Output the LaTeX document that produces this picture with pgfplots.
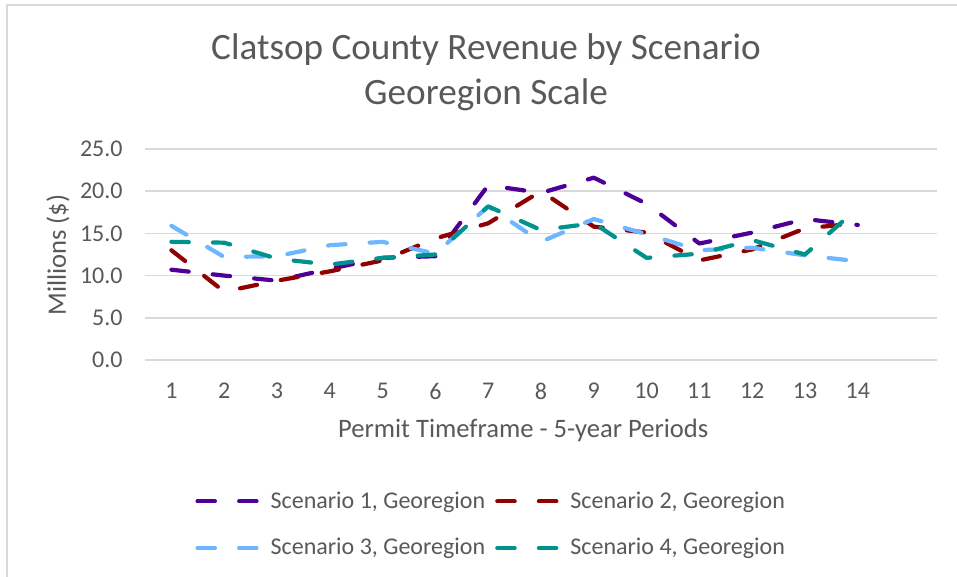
\documentclass[border=0pt]{standalone}
\usepackage{fontspec}
\setmainfont{Carlito}
\usepackage{pgfplots}
\pgfplotsset{compat=1.18}
\definecolor{sone}{RGB}{78,0,150}
\definecolor{stwo}{RGB}{145,0,0}
\definecolor{sthree}{RGB}{110,182,255}
\definecolor{sfour}{RGB}{0,146,140}
\definecolor{txt}{RGB}{89,89,89}
\definecolor{gridc}{RGB}{217,217,217}
\begin{document}
\begin{tikzpicture}
\path[use as bounding box] (0,0) rectangle (478.5pt,288.5pt);
\fill[white] (0,0) rectangle (478.5pt,288.5pt);
\draw[gridc, line width=0.8pt] (3.5pt,0) -- (3.5pt,286pt) -- (478.5pt,286pt);
\node[txt, font=\fontsize{18.6}{22}\selectfont, inner sep=0pt] at (243pt,263.5pt) {Clatsop County Revenue by Scenario};
\node[txt, font=\fontsize{18.6}{22}\selectfont, inner sep=0pt] at (243pt,241pt) {Georegion Scale};
\node[txt, font=\fontsize{13.3}{15}\selectfont, inner sep=0pt, rotate=90] at (29pt,161pt) {Millions (\$)};
\begin{axis}[
  at={(72.5pt,108.5pt)}, anchor=south west,
  scale only axis, width=396pt, height=105.5pt,
  xmin=0.5, xmax=15.5, ymin=0, ymax=25,
  xtick={1,...,14}, ytick={0,5,...,25},
  axis line style={draw=none},
  major tick length=0pt, tick style={draw=none},
  xmajorgrids=false, ymajorgrids=true, grid style={draw=gridc, line width=0.8pt},
  ticklabel style={txt, font=\fontsize{12}{14}\selectfont, inner sep=0pt},
  xticklabel style={anchor=north, yshift=-11.5pt},
  yticklabel style={anchor=east, xshift=-11pt,
    /pgf/number format/.cd, fixed, fixed zerofill, precision=1},
  /pgf/number format/assume math mode=true,
  xlabel={Permit Timeframe - 5-year Periods},
  label style={txt, font=\fontsize{13.3}{15}\selectfont},
  xlabel style={at={(0.4775,0)}, anchor=center, yshift=-35pt},
  every axis plot/.append style={line width=2.1pt, line cap=round, line join=round, dash pattern=on 8.7pt off 12.1pt},
  legend columns=2,
  legend cell align=left,
  legend image code/.code={\draw[#1] (1pt,0pt) -- (31.5pt,0pt);},
  legend style={draw=none, fill=none, at={(0.0556,-0.603)}, anchor=north west,
    font=\fontsize{12}{14}\selectfont, text=txt,
    nodes={inner sep=0pt}, column sep=5pt, row sep=13.5pt},
]
\addplot[sone] coordinates {(1,10.7)(2,10.0)(3,9.4)(4,10.8)(5,12.1)(6,12.3)(7,20.7)(8,19.8)(9,21.6)(10,18.5)(11,13.8)(12,15.1)(13,16.7)(14,16.0)};
\addlegendentry{Scenario 1, Georegion}
\addplot[stwo] coordinates {(1,13.0)(2,8.1)(3,9.4)(4,10.5)(5,11.8)(6,14.4)(7,16.2)(8,20.0)(9,15.8)(10,15.1)(11,11.8)(12,13.1)(13,15.6)(14,16.2)};
\addlegendentry{Scenario 2, Georegion}
\addplot[sthree] coordinates {(1,15.9)(2,12.2)(3,12.3)(4,13.6)(5,14.0)(6,12.6)(7,18.2)(8,14.0)(9,16.7)(10,14.9)(11,13.0)(12,13.3)(13,12.4)(14,11.7)};
\addlegendentry{Scenario 3, Georegion}
\addplot[sfour] coordinates {(1,14.0)(2,13.9)(3,12.0)(4,11.3)(5,12.1)(6,12.5)(7,18.2)(8,15.4)(9,16.2)(10,12.1)(11,12.6)(12,14.2)(13,12.5)(14,18.0)};
\addlegendentry{Scenario 4, Georegion}
\end{axis}
\end{tikzpicture}
\end{document}
